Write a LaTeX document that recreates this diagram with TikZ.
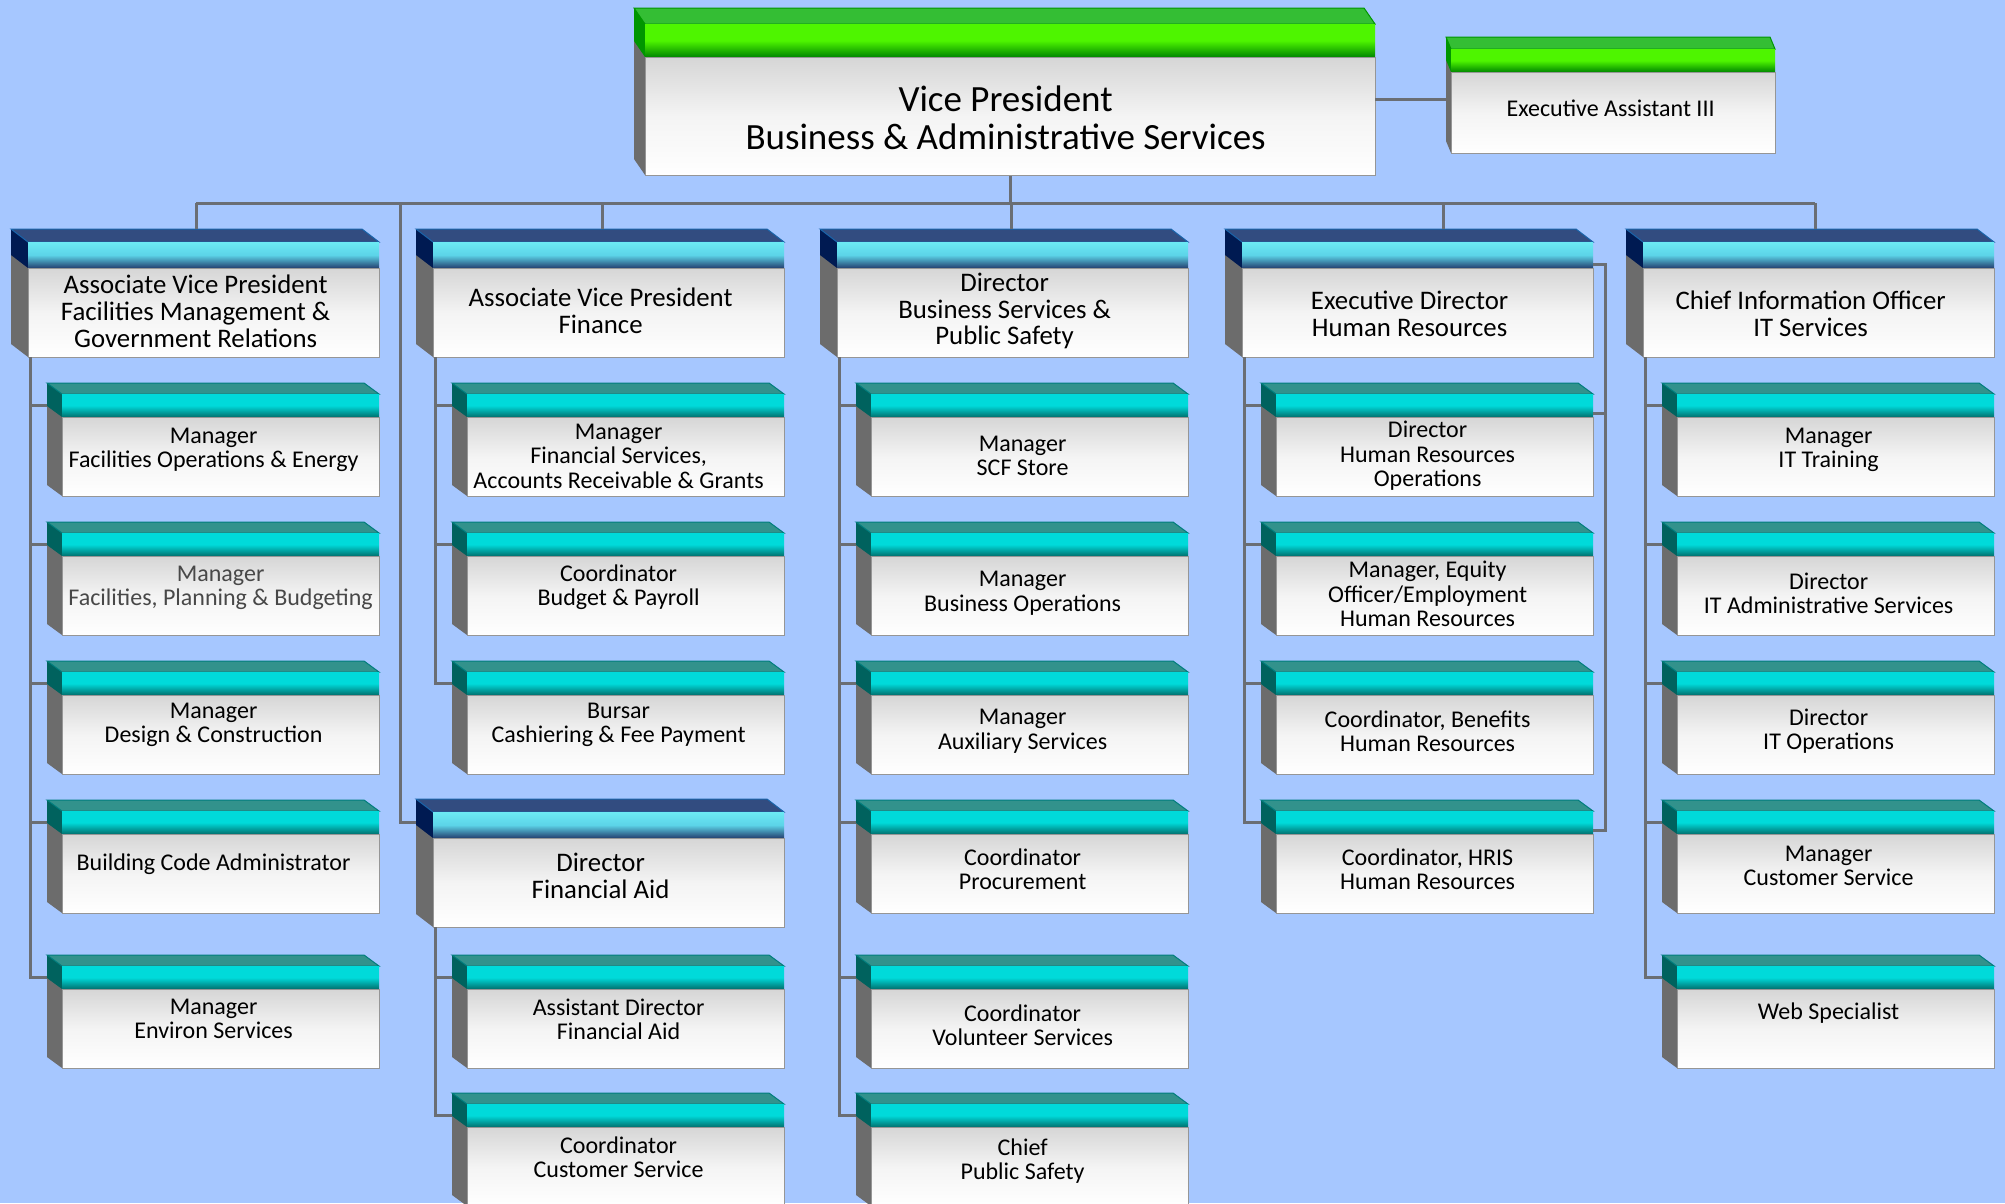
\documentclass[tikz,border=0pt]{standalone}
\usepackage{fontspec}
\setmainfont{Carlito}
\usetikzlibrary{calc}
\definecolor{bgblue}{RGB}{166,199,255}
\definecolor{linkgray}{RGB}{106,110,116}
\definecolor{sidegray}{RGB}{108,108,108}
\definecolor{edgegray}{RGB}{150,150,150}
\definecolor{bodytop}{RGB}{214,214,214}
\definecolor{bodymid}{RGB}{244,244,244}
\definecolor{tealtop}{RGB}{50,146,140}
\definecolor{tealedge}{RGB}{0,125,125}
\definecolor{tealside}{RGB}{0,98,94}
\definecolor{cyanhi}{RGB}{0,218,218}
\definecolor{tealdark}{RGB}{0,112,110}
\definecolor{navytop}{RGB}{50,76,128}
\definecolor{navyedge}{RGB}{25,100,170}
\definecolor{navyside}{RGB}{0,26,82}
\definecolor{skyhi}{RGB}{108,234,244}
\definecolor{skymid}{RGB}{92,212,232}
\definecolor{navydark}{RGB}{36,64,112}
\definecolor{greentop}{RGB}{52,190,52}
\definecolor{greenedge}{RGB}{0,150,0}
\definecolor{greenside}{RGB}{0,150,0}
\definecolor{greenhi}{RGB}{78,245,0}
\definecolor{greendark}{RGB}{0,135,0}
\definecolor{dimtext}{RGB}{72,72,72}
\tikzset{
  link/.style={draw=linkgray, line width=3pt},
  body/.style={rectangle, inner sep=0pt, draw=edgegray, line width=1.2pt,
    top color=bodytop, bottom color=white, middle color=bodymid},
  stafftext/.style={align=center, inner sep=0pt, font=\fontsize{24}{24.5}\selectfont},
  headtext/.style={align=center, inner sep=0pt, font=\fontsize{26.8}{26.7}\selectfont},
  vptext/.style={align=center, inner sep=0pt, font=\fontsize{37}{38}\selectfont},
  eatext/.style={align=center, inner sep=0pt, font=\fontsize{24}{25}\selectfont},
}
\newcommand{\drawStaff}[5]{% name, front top-left x, y, text shift, text
  \fill[sidegray] (#2,#3) -- ++(-15,-11) -- ++(0,102) -- ++(15,11) -- cycle;
  \fill[tealside] (#2,#3) -- ++(-15,-11) -- ++(0,23) -- ++(15,11) -- cycle;
  \filldraw[fill=tealtop, draw=tealedge, line width=1pt] (#2,#3) -- ++(-15,-11) -- ++(317,0) -- ++(15,11) -- cycle;
  \shade[top color=cyanhi, bottom color=tealdark, middle color=cyanhi] (#2,#3) rectangle ++(317,23);
  \node[body, minimum width=317pt, minimum height=79pt, anchor=north west] (#1) at (#2,#3+23) {};
  \node[stafftext] (#1-txt) at ($(#1.center)+(-7.5,#4)$) {#5};
  \coordinate (#1-in) at (#2-15,#3+11);
  \coordinate (#1-east) at (#2+317,#3+19);
}
\newcommand{\drawHead}[6]{% name, front top-left x, y, text shift, text, drop x
  \fill[sidegray] (#2,#3) -- ++(-17,-13) -- ++(0,115) -- ++(17,13) -- cycle;
  \fill[navyside] (#2,#3) -- ++(-17,-13) -- ++(0,26) -- ++(17,13) -- cycle;
  \filldraw[fill=navytop, draw=navyedge, line width=1pt] (#2,#3) -- ++(-17,-13) -- ++(351,0) -- ++(17,13) -- cycle;
  \shade[top color=skyhi, bottom color=navydark, middle color=skymid] (#2,#3) rectangle ++(351,26);
  \node[body, minimum width=351pt, minimum height=89pt, anchor=north west] (#1) at (#2,#3+26) {};
  \node[headtext] (#1-txt) at ($(#1.center)+(-8.5,#4)$) {#5};
  \coordinate (#1-in) at (#2-17,#3+10);
  \coordinate (#1-east) at (#2+351,#3+22);
  \coordinate (#1-out) at (#2+2,#3+115);
  \coordinate (#1-top) at (#6,#3-13);
}
\newcommand{\drawChief}[8]{% name, front top-left x, y, width, height, bar, depth x, depth y
  \fill[sidegray] (#2,#3) -- (#2-#7,#3-#8) -- (#2-#7,#3-#8+#5) -- (#2,#3+#5) -- cycle;
  \fill[greenside] (#2,#3) -- (#2-#7,#3-#8) -- (#2-#7,#3-#8+#6) -- (#2,#3+#6) -- cycle;
  \filldraw[fill=greentop, draw=greenedge, line width=1pt] (#2,#3) -- (#2-#7,#3-#8) -- (#2+#4-#7,#3-#8) -- (#2+#4,#3) -- cycle;
  \shade[top color=greenhi, bottom color=greendark, middle color=greenhi] (#2,#3) rectangle ++(#4,#6);
  \node[body, minimum width=#4pt, minimum height={(#5-#6)*1pt}, anchor=north west] (#1) at (#2,#3+#6) {};
}
\begin{document}
\begin{tikzpicture}[x=1pt,y=-1pt]
\useasboundingbox (0,0) rectangle (2005,1203);
\fill[bgblue] (0,0) rectangle (2005,1203);
\clip (0,0) rectangle (2005,1203);

% Vice President and assistant
\drawChief{vp}{645}{24}{730}{151}{33}{11}{16}
\node[vptext] (vp-txt) at ($(vp.center)+(-5,1)$) {Vice President\\Business \& Administrative Services};
\drawChief{ea}{1451}{49}{324}{104}{23}{5}{12}
\node[eatext] (ea-txt) at ($(ea.center)+(-3,-5)$) {Executive Assistant III};
\coordinate (vp-east) at (1375,99);
\coordinate (ea-in) at (1446,99);

% Direct reports
\drawHead{avpfm}{28}{242}{-2}{Associate Vice President\\Facilities Management \&\\Government Relations}{196}
\drawHead{avpfin}{433}{242}{-2}{Associate Vice President\\Finance}{602}
\drawHead{dirbsps}{837}{242}{-2}{Director\\Business Services \&\\Public Safety}{1011}
\drawHead{exdirhr}{1242}{242}{1}{Executive Director\\Human Resources}{1443}
\drawHead{cio}{1643}{242}{1}{Chief Information Officer\\IT Services}{1815}
\drawHead{dirfa}{433}{812}{-7}{Director\\Financial Aid}{600}

% Facilities
\drawStaff{mgrfoe}{62}{394}{-7}{Manager\\Facilities Operations \& Energy}
\begin{scope}[stafftext/.append style={text=dimtext, xshift=7pt}]
\drawStaff{mgrfpb}{62}{533}{-8}{Manager\\Facilities, Planning \& Budgeting}
\end{scope}
\drawStaff{mgrdc}{62}{672}{-10}{Manager\\Design \& Construction}
\drawStaff{bldcode}{62}{811}{-10}{Building Code Administrator}
\drawStaff{mgrenv}{62}{966}{-10}{Manager\\Environ Services}

% Finance
\drawStaff{mgrfin}{467}{394}{-1}{Manager\\Financial Services,\\Accounts Receivable \& Grants}
\drawStaff{coordbp}{467}{533}{-9}{Coordinator\\Budget \& Payroll}
\drawStaff{bursar}{467}{672}{-10}{Bursar\\Cashiering \& Fee Payment}
\drawStaff{astdirfa}{467}{966}{-10}{Assistant Director\\Financial Aid}
\drawStaff{coordcs}{467}{1104}{-10}{Coordinator\\Customer Service}

% Business services
\drawStaff{mgrscf}{871}{394}{-1}{Manager\\SCF Store}
\drawStaff{mgrbo}{871}{533}{-3}{Manager\\Business Operations}
\drawStaff{mgraux}{871}{672}{-4}{Manager\\Auxiliary Services}
\drawStaff{coordproc}{871}{811}{-5}{Coordinator\\Procurement}
\drawStaff{coordvol}{871}{966}{-4}{Coordinator\\Volunteer Services}
\drawStaff{chiefps}{871}{1104}{-6}{Chief\\Public Safety}

% Human resources
\drawStaff{dirhrops}{1276}{394}{-1}{Director\\Human Resources\\Operations}
\drawStaff{mgreeo}{1276}{533}{-2}{Manager, Equity\\Officer/Employment\\Human Resources}
\drawStaff{coordben}{1276}{672}{-4}{Coordinator, Benefits\\Human Resources}
\drawStaff{coordhris}{1276}{811}{-5}{Coordinator, HRIS\\Human Resources}

% IT services
\drawStaff{mgritt}{1677}{394}{-7}{Manager\\IT Training}
\drawStaff{diritadm}{1677}{533}{-3}{Director\\IT Administrative Services}
\drawStaff{diritops}{1677}{672}{-4}{Director\\IT Operations}
\drawStaff{mgritcs}{1677}{811}{-8}{Manager\\Customer Service}
\drawStaff{webspec}{1677}{966}{-16}{Web Specialist}

% Top links
\coordinate (bus) at (0,203);
\coordinate (fafeed) at (400,203);
\coordinate (hrrail) at (1605,0);
\draw[link] (vp-east) -- (ea-in);
\draw[link] (vp.south) -- (vp.south |- bus);
\draw[link] (avpfm-top |- bus) -- (cio-top |- bus);
\draw[link] (avpfm-top |- bus) -- (avpfm-top);
\draw[link] (avpfin-top |- bus) -- (avpfin-top);
\draw[link] (dirbsps-top |- bus) -- (dirbsps-top);
\draw[link] (exdirhr-top |- bus) -- (exdirhr-top);
\draw[link] (cio-top |- bus) -- (cio-top);
\draw[link] (fafeed) |- (dirfa-in);

% Column links
\draw[link] (avpfm-out) |- (mgrfoe-in) (avpfm-out) |- (mgrfpb-in) (avpfm-out) |- (mgrdc-in)
  (avpfm-out) |- (bldcode-in) (avpfm-out) |- (mgrenv-in);
\draw[link] (avpfin-out) |- (mgrfin-in) (avpfin-out) |- (coordbp-in) (avpfin-out) |- (bursar-in);
\draw[link] (dirfa-out) |- (astdirfa-in) (dirfa-out) |- (coordcs-in);
\draw[link] (dirbsps-out) |- (mgrscf-in) (dirbsps-out) |- (mgrbo-in) (dirbsps-out) |- (mgraux-in)
  (dirbsps-out) |- (coordproc-in) (dirbsps-out) |- (coordvol-in) (dirbsps-out) |- (chiefps-in);
\draw[link] (exdirhr-out) |- (dirhrops-in) (exdirhr-out) |- (mgreeo-in) (exdirhr-out) |- (coordben-in)
  (exdirhr-out) |- (coordhris-in);
\draw[link] (exdirhr-east) -- (exdirhr-east -| hrrail) |- (coordhris-east);
\draw[link] (dirhrops-east) -- (dirhrops-east -| hrrail);
\draw[link] (cio-out) |- (mgritt-in) (cio-out) |- (diritadm-in) (cio-out) |- (diritops-in)
  (cio-out) |- (mgritcs-in) (cio-out) |- (webspec-in);
\end{tikzpicture}
\end{document}
